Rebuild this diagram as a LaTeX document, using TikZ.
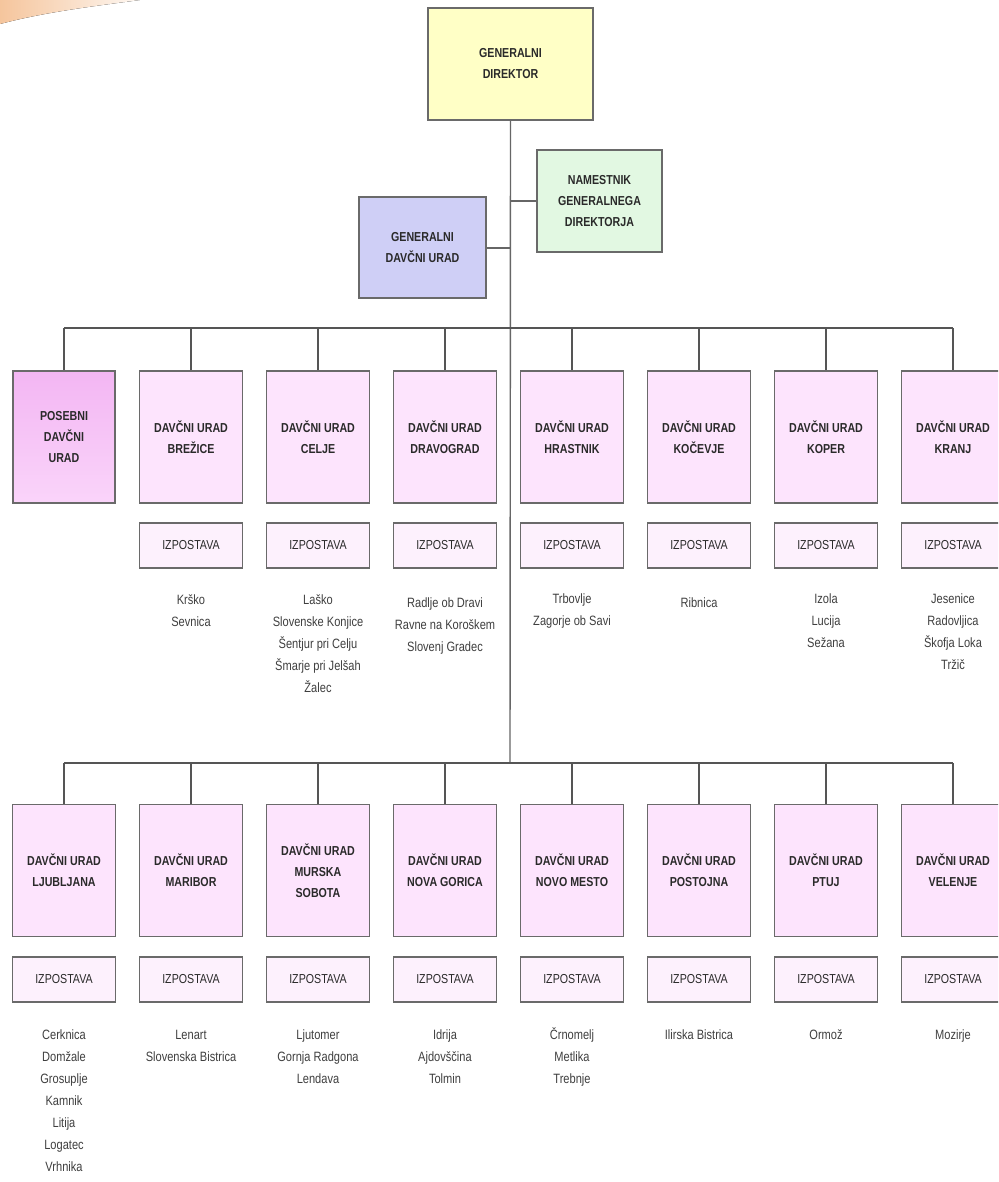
\documentclass[tikz,border=0pt]{standalone}
\usepackage{fontspec}
\setmainfont{Liberation Sans}[FakeStretch=0.82]
\definecolor{bordc}{HTML}{6A6A6A}
\definecolor{linec}{HTML}{555555}
\definecolor{yel}{HTML}{FFFFC6}
\definecolor{grn}{HTML}{E2F8E2}
\definecolor{lav}{HTML}{CFCFF6}
\definecolor{pinkA}{HTML}{F3B6F3}
\definecolor{pinkB}{HTML}{FAD4FA}
\definecolor{pinkC}{HTML}{FDE4FD}
\definecolor{pinkD}{HTML}{FDF1FD}
\definecolor{txt}{HTML}{2A2A2A}
\definecolor{peach}{HTML}{F2B27C}
\tikzset{
  box/.style={draw=bordc, line width=1.8pt, align=center, inner sep=2pt, text=txt,
    font=\fontsize{13}{21}\selectfont\bfseries},
  topbox/.style={box, fill=yel, minimum width=165, minimum height=112},
  nambox/.style={box, fill=grn, minimum width=125, minimum height=102},
  gdubox/.style={box, fill=lav, minimum width=127, minimum height=101},
  office/.style={box, fill=pinkC, minimum width=103, minimum height=132},
  posebni/.style={box, top color=pinkA, bottom color=pinkB, minimum width=102, minimum height=132},
  izp/.style={draw=bordc, line width=1.8pt, fill=pinkD, minimum width=103, minimum height=45,
    inner sep=0pt, text=txt, font=\fontsize{13}{15}\selectfont},
  places/.style={anchor=north, align=center, inner sep=0pt, text=txt!90,
    font=\fontsize{13.5}{22}\selectfont, execute at begin node={\rule{0pt}{13pt}}},
  bus/.style={draw=linec, line width=2.6pt},
  drop/.style={draw=linec, line width=2pt},
  trunk/.style={draw=gray!80!black, line width=1.4pt},
  stub/.style={draw=gray!80!black, line width=2pt}
}
\begin{document}
\begin{tikzpicture}[x=1pt,y=-1pt]
\clip (0,0) rectangle (998,1182);
\useasboundingbox (0,0) rectangle (998,1182);
\fill[white] (0,0) rectangle (998,1182);
% decorative swoosh
\fill[left color=peach!75, right color=peach!10]
  (0,0) -- (140,0) .. controls (95,6) and (45,12) .. (0,24) -- cycle;

% top part
\node[topbox] (gd) at (510.5,64) {GENERALNI\\DIREKTOR};
\node[nambox] (nam) at (599.5,201) {NAMESTNIK\\GENERALNEGA\\DIREKTORJA};
\node[gdubox] (gdu) at (422.5,247.5) {GENERALNI\\DAVČNI URAD};
\coordinate (b1) at (510,328);
\coordinate (b2) at (510,763);

% row 1
\node[posebni] (pdu) at (64,437) {POSEBNI\\DAVČNI\\URAD};
\node[office] (bre) at (191,437) {DAVČNI URAD\\BREŽICE};
\node[office] (cel) at (318,437) {DAVČNI URAD\\CELJE};
\node[office] (dra) at (445,437) {DAVČNI URAD\\DRAVOGRAD};
\node[office] (hra) at (572,437) {DAVČNI URAD\\HRASTNIK};
\node[office] (koc) at (699,437) {DAVČNI URAD\\KOČEVJE};
\node[office] (kop) at (826,437) {DAVČNI URAD\\KOPER};
\node[office] (kra) at (953,437) {DAVČNI URAD\\KRANJ};

\node[izp] (brei) at (191,545.5) {IZPOSTAVA};
\node[izp] (celi) at (318,545.5) {IZPOSTAVA};
\node[izp] (drai) at (445,545.5) {IZPOSTAVA};
\node[izp] (hrai) at (572,545.5) {IZPOSTAVA};
\node[izp] (koci) at (699,545.5) {IZPOSTAVA};
\node[izp] (kopi) at (826,545.5) {IZPOSTAVA};
\node[izp] (krai) at (953,545.5) {IZPOSTAVA};

\node[places] (brel) at (191,594) {Krško\\Sevnica};
\node[places] (cell) at (318,594) {Laško\\Slovenske Konjice\\Šentjur pri Celju\\Šmarje pri Jelšah\\Žalec};
\node[places] (dral) at (445,598) {Radlje ob Dravi\\Ravne na Koroškem\\Slovenj Gradec};
\node[places] (hral) at (572,594) {Trbovlje\\Zagorje ob Savi};
\node[places] (kocl) at (699,594) {Ribnica};
\node[places] (kopl) at (826,594) {Izola\\Lucija\\Sežana};
\node[places] (kral) at (953,594) {Jesenice\\Radovljica\\Škofja Loka\\Tržič};

% row 2
\node[office] (lju) at (64,870.5) {DAVČNI URAD\\LJUBLJANA};
\node[office] (mar) at (191,870.5) {DAVČNI URAD\\MARIBOR};
\node[office] (mus) at (318,870.5) {DAVČNI URAD\\MURSKA\\SOBOTA};
\node[office] (ngo) at (445,870.5) {DAVČNI URAD\\NOVA GORICA};
\node[office] (nme) at (572,870.5) {DAVČNI URAD\\NOVO MESTO};
\node[office] (pos) at (699,870.5) {DAVČNI URAD\\POSTOJNA};
\node[office] (ptu) at (826,870.5) {DAVČNI URAD\\PTUJ};
\node[office] (vel) at (953,870.5) {DAVČNI URAD\\VELENJE};

\node[izp] (ljui) at (64,979.5) {IZPOSTAVA};
\node[izp] (mari) at (191,979.5) {IZPOSTAVA};
\node[izp] (musi) at (318,979.5) {IZPOSTAVA};
\node[izp] (ngoi) at (445,979.5) {IZPOSTAVA};
\node[izp] (nmei) at (572,979.5) {IZPOSTAVA};
\node[izp] (posi) at (699,979.5) {IZPOSTAVA};
\node[izp] (ptui) at (826,979.5) {IZPOSTAVA};
\node[izp] (veli) at (953,979.5) {IZPOSTAVA};

\node[places] (ljul) at (64,1030) {Cerknica\\Domžale\\Grosuplje\\Kamnik\\Litija\\Logatec\\Vrhnika};
\node[places] (marl) at (191,1030) {Lenart\\Slovenska Bistrica};
\node[places] (musl) at (318,1030) {Ljutomer\\Gornja Radgona\\Lendava};
\node[places] (ngol) at (445,1030) {Idrija\\Ajdovščina\\Tolmin};
\node[places] (nmel) at (572,1027) {Črnomelj\\Metlika\\Trebnje};
\node[places] (posl) at (699,1026) {Ilirska Bistrica};
\node[places] (ptul) at (826,1026) {Ormož};
\node[places] (vell) at (953,1026) {Mozirje};

% connectors
\draw[trunk] (gd.south) -- (b2);
\draw[stub] (gd.south |- nam.west) -- (nam.west);
\draw[stub] (gdu.east) -- (gd.south |- gdu.east);
\draw[bus] (pdu.north |- b1) -- (kra.north |- b1);
\draw[bus] (lju.north |- b2) -- (vel.north |- b2);
\foreach \n in {pdu,bre,cel,dra,hra,koc,kop,kra}{
  \draw[drop] (\n.north |- b1) -- (\n.north);
}
\foreach \n in {lju,mar,mus,ngo,nme,pos,ptu,vel}{
  \draw[drop] (\n.north |- b2) -- (\n.north);
}
\end{tikzpicture}
\end{document}
